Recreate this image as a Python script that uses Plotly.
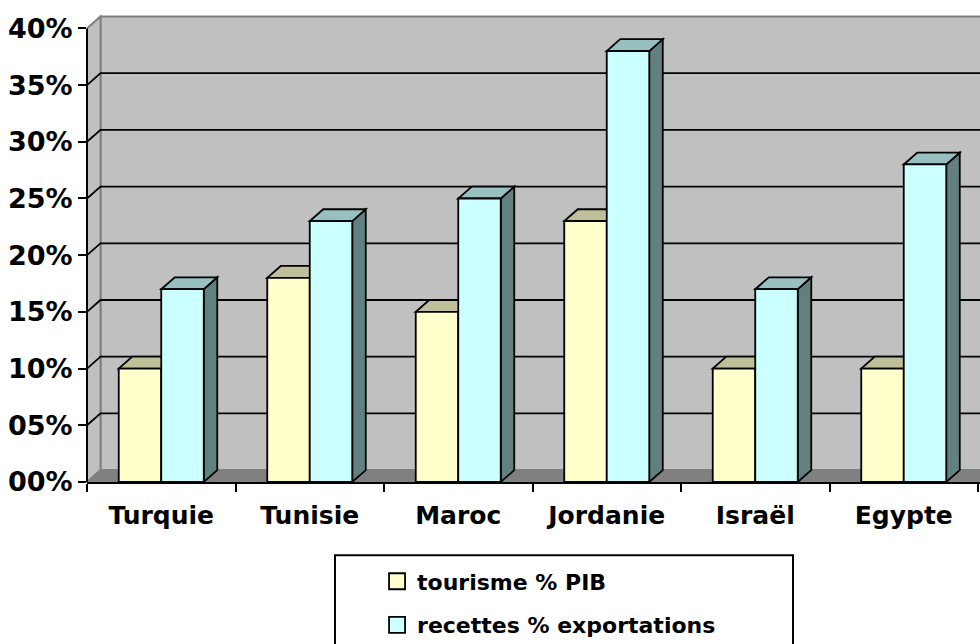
import plotly.graph_objects as go

# ---- data -------------------------------------------------------------
countries = ["Turquie", "Tunisie", "Maroc", "Jordanie", "Israël", "Egypte"]
tourisme_pib = [10, 18, 15, 23, 10, 10]          # % of GDP
recettes_export = [17, 23, 25, 38, 17, 28]       # % of exports
series_names = ["tourisme % PIB", "recettes % exportations"]
y_tickvals = [0, 5, 10, 15, 20, 25, 30, 35, 40]
y_ticktext = ["00%", "05%", "10%", "15%", "20%", "25%", "30%", "35%", "40%"]

# ---- style ------------------------------------------------------------
FRONT = ["#FFFFCC", "#CCFFFF"]
TOP = ["#BFBF99", "#99C0C0"]
SIDE = ["#808066", "#638080"]
WALL = "#C0C0C0"
FLOOR = "#808080"
EDGE = "#808080"
FONT = "DejaVu Sans"

DX = 0.091      # depth of the 3-D effect along x (category units)
DY = 1.05       # depth of the 3-D effect along y (percent units)
BARGAP = 0.4276
BAR_W = (1 - BARGAP) / 2
X_RANGE = [-0.5, 5.5135]
Y_TOP = 40 + DY + 0.13

n = len(countries)
x_lo, x_hi = -0.5, n - 0.5


def poly(pts, fill, color="black", width=1.5, layer="below"):
    path = "M " + " L ".join(f"{x:.4f},{y:.4f}" for x, y in pts) + " Z"
    return dict(type="path", path=path, xref="x", yref="y", fillcolor=fill,
                line=dict(color=color, width=width), layer=layer)


shapes = []
# back wall, left wall and floor
shapes.append(dict(type="rect", xref="x", yref="y", x0=x_lo + DX, x1=x_hi + DX,
                   y0=DY, y1=y_tickvals[-1] + DY, fillcolor=WALL,
                   line=dict(color=EDGE, width=2), layer="below"))
shapes.append(poly([(x_lo, 0), (x_lo, y_tickvals[-1]), (x_lo + DX, y_tickvals[-1] + DY),
                    (x_lo + DX, DY)], WALL, color=EDGE, width=2))
shapes.append(poly([(x_lo, 0), (x_hi, 0), (x_hi + DX, DY), (x_lo + DX, DY)],
                   FLOOR, color=EDGE, width=1.5))
# gridlines running across the left wall and the back wall
for v in y_tickvals[1:-1]:
    shapes.append(dict(type="path", xref="x", yref="y",
                       path=f"M {x_lo},{v} L {x_lo + DX},{v + DY} L {x_hi + DX},{v + DY}",
                       line=dict(color="black", width=1.8), layer="below"))

# top and side faces of every bar (front faces are the bar traces)
for i in range(n):
    for k, vals in enumerate([tourisme_pib, recettes_export]):
        v = vals[i]
        x0 = i - BAR_W + k * BAR_W
        x1 = x0 + BAR_W
        shapes.append(poly([(x1, 0), (x1, v), (x1 + DX, v + DY), (x1 + DX, DY)], SIDE[k], width=1.8))
        shapes.append(poly([(x0, v), (x1, v), (x1 + DX, v + DY), (x0 + DX, v + DY)], TOP[k], width=1.8))

# front value axis line (stops at the top tick)
shapes.append(dict(type="line", xref="paper", yref="y", x0=0, x1=0, y0=0,
                   y1=y_tickvals[-1], line=dict(color="black", width=2), layer="above"))

# legend frame
shapes.append(dict(type="rect", xref="paper", yref="paper", x0=0.2777, x1=0.7906,
                   y0=-0.157, y1=-0.40, line=dict(color="black", width=2),
                   fillcolor="rgba(0,0,0,0)", layer="above"))

fig = go.Figure()
for k, vals in enumerate([tourisme_pib, recettes_export]):
    fig.add_trace(go.Bar(
        x=countries, y=vals, name=series_names[k], showlegend=False,
        marker=dict(color=FRONT[k], line=dict(color="black", width=1.8)),
    ))
for k in range(2):
    fig.add_trace(go.Scatter(
        x=[None], y=[None], mode="markers", name=series_names[k],
        legendgroup=f"g{k}",
        marker=dict(symbol="square", size=16, color=FRONT[k],
                    line=dict(color="black", width=1.8)),
    ))

fig.update_layout(
    width=980, height=644, autosize=False,
    margin=dict(l=87, r=0, t=15, b=162, pad=0, autoexpand=False),
    paper_bgcolor="white", plot_bgcolor="white",
    barmode="group", bargap=BARGAP, bargroupgap=0,
    hovermode=False,
    shapes=shapes,
    font=dict(family=FONT, color="black", weight="bold"),
    legend=dict(
        x=0.3248, xanchor="left", y=-0.168, yanchor="top",
        bgcolor="rgba(0,0,0,0)", borderwidth=0,
        font=dict(family=FONT, size=22, color="black", weight="bold"),
        traceorder="grouped", tracegroupgap=12,
    ),
    xaxis=dict(
        type="category", categoryorder="array", categoryarray=countries,
        range=X_RANGE, showgrid=False, zeroline=False,
        showline=True, linecolor="black", linewidth=2,
        ticks="outside", ticklen=8, tickwidth=2, tickcolor="black",
        tickson="boundaries", ticklabelstandoff=10,
        tickfont=dict(family=FONT, size=25, color="black", weight="bold"),
        fixedrange=True,
    ),
    yaxis=dict(
        range=[0, Y_TOP], tickvals=y_tickvals, ticktext=y_ticktext,
        showgrid=False, zeroline=False, showline=False,
        ticks="outside", ticklen=8, tickwidth=2, tickcolor="black",
        tickfont=dict(family=FONT, size=27, color="black", weight="bold"),
        fixedrange=True,
    ),
)

fig.write_html("out.html")
